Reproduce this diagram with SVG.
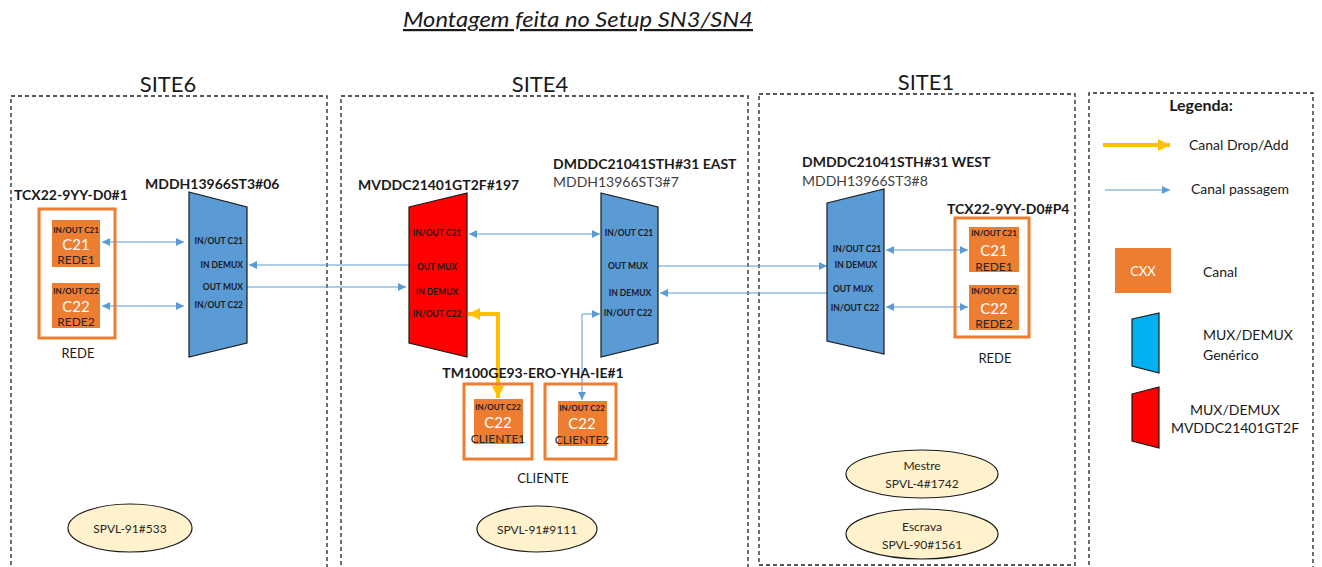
<svg xmlns="http://www.w3.org/2000/svg" width="1322" height="567" viewBox="0 0 1322 567">
<style>
text{font-family:Lato,"Open Sans","Liberation Sans",sans-serif;fill:#1a1a1a}
.site{fill:none;stroke:#222;stroke-width:1.3;stroke-dasharray:4,3}
.sl{font-size:22px;text-anchor:middle}
.bl{font-size:14px;font-weight:bold}
.nl{font-size:14px;fill:#404040}
.mux{fill:#5B9BD5;stroke:#1a1a1a;stroke-width:1.2}
.red{fill:#FF0000;stroke:#1a1a1a;stroke-width:1.2}
.port{font-size:8.5px;font-weight:bold;dominant-baseline:central}
.ob{fill:none;stroke:#ED7D31;stroke-width:3}
.ch{fill:#ED7D31}
.ct{font-size:8px;font-weight:bold;text-anchor:middle;dominant-baseline:central}
.cn{font-size:15px;fill:#fff;text-anchor:middle;dominant-baseline:central}
.cr{font-size:12px;text-anchor:middle;dominant-baseline:central;fill:#262626}
.lab{font-size:13px;text-anchor:middle;dominant-baseline:central}
.ell{fill:#FFF2CC;stroke:#1a1a1a;stroke-width:1.2}
.et{font-size:12px;text-anchor:middle;dominant-baseline:central;fill:#262626}
.bc{fill:none;stroke:#5B9BD5;stroke-width:1}
.yc{fill:none;stroke:#FFC000;stroke-width:4}
.lt{font-size:14px;dominant-baseline:central}
</style>
<defs>
<marker id="ab" viewBox="0 0 10 10" refX="10" refY="5" markerWidth="9" markerHeight="8" markerUnits="userSpaceOnUse" orient="auto-start-reverse"><path d="M0,0 L10,5 L0,10 z" fill="#5B9BD5"/></marker>
<marker id="ay" viewBox="0 0 10 10" refX="10" refY="5" markerWidth="13" markerHeight="12" markerUnits="userSpaceOnUse" orient="auto-start-reverse"><path d="M0,0 L10,5 L0,10 z" fill="#FFC000"/></marker>
</defs>
<rect width="1322" height="567" fill="#fff"/>

<g id="title">
<text x="578" y="27" text-anchor="middle" font-size="22" font-style="italic" text-decoration="underline" textLength="350" lengthAdjust="spacingAndGlyphs">Montagem feita no Setup SN3/SN4</text>
</g>

<g id="site6">
<text class="sl" x="168" y="92">SITE6</text>
<path class="site" d="M11,600 V96 H327 V600"/>
</g>
<g id="site4">
<text class="sl" x="540" y="92">SITE4</text>
<path class="site" d="M341,600 V96 H748 V600"/>
</g>
<g id="site1">
<text class="sl" x="926" y="90">SITE1</text>
<rect class="site" x="759" y="94" width="316" height="471"/>
</g>

<g id="connectors">
<line class="bc" x1="102" y1="242" x2="184" y2="242" marker-start="url(#ab)" marker-end="url(#ab)"/>
<line class="bc" x1="102" y1="306" x2="184" y2="306" marker-start="url(#ab)" marker-end="url(#ab)"/>
<line class="bc" x1="410" y1="265" x2="249" y2="265" marker-end="url(#ab)"/>
<line class="bc" x1="247" y1="287" x2="406" y2="287" marker-end="url(#ab)"/>
<line class="bc" x1="469" y1="234" x2="600" y2="234" marker-start="url(#ab)" marker-end="url(#ab)"/>
<line class="bc" x1="658" y1="266" x2="827" y2="266" marker-end="url(#ab)"/>
<line class="bc" x1="828" y1="293" x2="660" y2="293" marker-end="url(#ab)"/>
<path class="bc" d="M582,400 V314 H600" marker-start="url(#ab)" marker-end="url(#ab)"/>
<path class="yc" d="M498,398 V314 H468" marker-start="url(#ay)" marker-end="url(#ay)"/>
<line class="bc" x1="886" y1="250" x2="968" y2="250" marker-start="url(#ab)" marker-end="url(#ab)"/>
<line class="bc" x1="886" y1="307" x2="968" y2="307" marker-start="url(#ab)" marker-end="url(#ab)"/>
</g>

<g id="tcx-site6">
<text class="bl" x="14" y="200">TCX22-9YY-D0#1</text>
<rect class="ob" x="39" y="209" width="76" height="129"/>
<rect class="ch" x="52" y="220" width="48" height="47"/>
<text class="ct" x="76" y="230">IN/OUT C21</text>
<text class="cn" x="76" y="244">C21</text>
<text class="cr" x="76" y="259">REDE1</text>
<rect class="ch" x="52" y="283" width="48" height="45"/>
<text class="ct" x="76" y="291">IN/OUT C22</text>
<text class="cn" x="76" y="306">C22</text>
<text class="cr" x="76" y="321">REDE2</text>
<text class="lab" x="78" y="353">REDE</text>
</g>

<g id="mux-site6">
<text class="bl" x="145" y="189">MDDH13966ST3#06</text>
<polygon class="mux" points="189,192 247,207 247,343 189,357"/>
<text class="port" x="243" y="241" text-anchor="end">IN/OUT C21</text>
<text class="port" x="243" y="265" text-anchor="end">IN DEMUX</text>
<text class="port" x="243" y="287" text-anchor="end">OUT MUX</text>
<text class="port" x="243" y="305" text-anchor="end">IN/OUT C22</text>
</g>

<g id="mux-red">
<text class="bl" x="358" y="190">MVDDC21401GT2F#197</text>
<polygon class="red" points="409,207 467,193 467,357 409,343"/>
<text class="port" x="437" y="233" text-anchor="middle">IN/OUT C21</text>
<text class="port" x="437" y="267" text-anchor="middle">OUT MUX</text>
<text class="port" x="437" y="292" text-anchor="middle">IN DEMUX</text>
<text class="port" x="437" y="314" text-anchor="middle">IN/OUT C22</text>
</g>

<g id="mux-east">
<text class="bl" x="553" y="169">DMDDC21041STH#31 EAST</text>
<text class="nl" x="553" y="187">MDDH13966ST3#7</text>
<polygon class="mux" points="601,193 658,207 658,343 601,357"/>
<text class="port" x="629" y="233" text-anchor="middle">IN/OUT C21</text>
<text class="port" x="628" y="266" text-anchor="middle">OUT MUX</text>
<text class="port" x="630" y="293" text-anchor="middle">IN DEMUX</text>
<text class="port" x="628" y="313" text-anchor="middle">IN/OUT C22</text>
</g>

<g id="cliente">
<text class="bl" x="533" y="378" text-anchor="middle">TM100GE93-ERO-YHA-IE#1</text>
<rect class="ob" x="464" y="384" width="68" height="75"/>
<rect class="ch" x="474" y="399" width="49" height="45"/>
<text class="ct" x="498" y="407">IN/OUT C22</text>
<text class="cn" x="498" y="422">C22</text>
<text class="cr" x="498" y="438">CLIENTE1</text>
<rect class="ob" x="545" y="384" width="71" height="75"/>
<rect class="ch" x="558" y="401" width="49" height="45"/>
<text class="ct" x="582" y="408">IN/OUT C22</text>
<text class="cn" x="582" y="423">C22</text>
<text class="cr" x="582" y="439">CLIENTE2</text>
<text class="lab" x="543" y="478">CLIENTE</text>
</g>

<g id="mux-west">
<text class="bl" x="802" y="167">DMDDC21041STH#31 WEST</text>
<text class="nl" x="802" y="186">MDDH13966ST3#8</text>
<polygon class="mux" points="827,203 884,189 884,354 827,341"/>
<text class="port" x="857" y="249" text-anchor="middle">IN/OUT C21</text>
<text class="port" x="856" y="265" text-anchor="middle">IN DEMUX</text>
<text class="port" x="853" y="289" text-anchor="middle">OUT MUX</text>
<text class="port" x="855" y="308" text-anchor="middle">IN/OUT C22</text>
</g>

<g id="tcx-site1">
<text class="bl" x="947" y="214">TCX22-9YY-D0#P4</text>
<rect class="ob" x="955" y="218" width="74" height="119"/>
<rect class="ch" x="969" y="227" width="50" height="45"/>
<text class="ct" x="994" y="233">IN/OUT C21</text>
<text class="cn" x="994" y="250">C21</text>
<text class="cr" x="994" y="266">REDE1</text>
<rect class="ch" x="969" y="285" width="50" height="45"/>
<text class="ct" x="994" y="291">IN/OUT C22</text>
<text class="cn" x="994" y="308">C22</text>
<text class="cr" x="994" y="323">REDE2</text>
<text class="lab" x="995" y="358">REDE</text>
</g>

<g id="spvl-533">
<ellipse class="ell" cx="130" cy="528" rx="62" ry="24"/>
<text class="et" x="130" y="528">SPVL-91#533</text>
</g>
<g id="spvl-9111">
<ellipse class="ell" cx="537" cy="529" rx="60" ry="23"/>
<text class="et" x="537" y="529">SPVL-91#9111</text>
</g>
<g id="mestre">
<ellipse class="ell" cx="922" cy="474" rx="76" ry="24"/>
<text class="et" x="922" y="465">Mestre</text>
<text class="et" x="922" y="483">SPVL-4#1742</text>
</g>
<g id="escrava">
<ellipse class="ell" cx="922" cy="534" rx="76" ry="25"/>
<text class="et" x="922" y="526">Escrava</text>
<text class="et" x="922" y="544">SPVL-90#1561</text>
</g>

<g id="legend">
<path class="site" d="M1089,600 V93 H1313 V600"/>
<text x="1201" y="111" text-anchor="middle" font-size="16" font-weight="bold">Legenda:</text>
<line class="yc" x1="1103" y1="145" x2="1170" y2="145" stroke-width="3" marker-end="url(#ay)"/>
<text class="lt" x="1189" y="144">Canal Drop/Add</text>
<line class="bc" x1="1105" y1="190" x2="1170" y2="190" marker-end="url(#ab)"/>
<text class="lt" x="1191" y="188">Canal passagem</text>
<rect class="ch" x="1115" y="248" width="56" height="45"/>
<text x="1143" y="271" font-size="13" text-anchor="middle" dominant-baseline="central" style="fill:#fff">CXX</text>
<text class="lt" x="1203" y="271">Canal</text>
<polygon points="1132,319 1159,313 1159,373 1132,366" fill="#00B0F0" stroke="#1a1a1a" stroke-width="1.2"/>
<text class="lt" x="1203" y="334">MUX/DEMUX</text>
<text class="lt" x="1203" y="354">Genérico</text>
<polygon points="1132,394 1159,387 1159,448 1132,441" fill="#FF0000" stroke="#1a1a1a" stroke-width="1.2"/>
<text class="lt" x="1235" y="409" text-anchor="middle">MUX/DEMUX</text>
<text class="lt" x="1235" y="427" text-anchor="middle">MVDDC21401GT2F</text>
</g>
</svg>
